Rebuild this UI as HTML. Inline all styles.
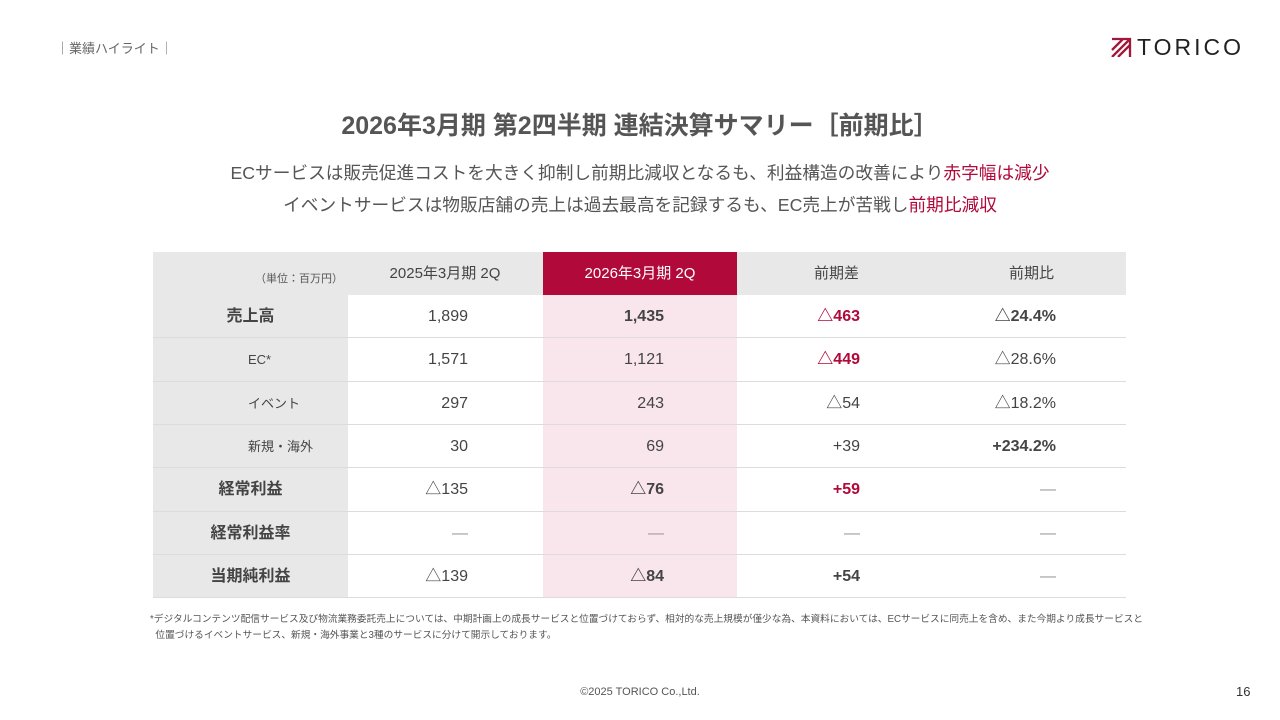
<!DOCTYPE html>
<html><head><meta charset="utf-8"><style>
body{margin:0;width:1280px;height:720px;background:#fff;font-family:"Liberation Sans","Noto Sans CJK JP",sans-serif;color:#444;position:relative;overflow:hidden}
.a{position:absolute;white-space:nowrap}
.c{position:absolute;height:43px;line-height:43px;font-size:16px}
.b{font-weight:bold}
.red{color:#b0093a}
.dash{color:#999;font-weight:normal}
</style></head><body>
<div class="a" style="left:56px;top:38px;font-size:13px;color:#666">｜業績ハイライト｜</div>
<div class="a" style="left:1110px;top:34px;font-size:23px;letter-spacing:3px;color:#222"><svg width="22" height="20" style="vertical-align:-2px;margin-right:5px"><path d="M2 2h18v18M2 20L20 2M8 20L20 8M2 13L13 2" stroke="#a0193a" stroke-width="2.3" fill="none"/></svg>TORICO</div>
<div class="a b" style="left:0;width:1280px;text-align:center;top:106px;font-size:25px;color:#555">2026年3月期 第2四半期 連結決算サマリー［前期比］</div>
<div class="a" style="left:0;width:1280px;text-align:center;top:159px;font-size:17.7px;color:#555">ECサービスは販売促進コストを大きく抑制し前期比減収となるも、利益構造の改善により<span class="red">赤字幅は減少</span></div>
<div class="a" style="left:0;width:1280px;text-align:center;top:191px;font-size:17.7px;color:#555">イベントサービスは物販店舗の売上は過去最高を記録するも、EC売上が苦戦し<span class="red">前期比減収</span></div>
<div id="t"></div>
<div class="a" style="left:150px;top:612px;font-size:9.7px;line-height:16px;color:#555">*デジタルコンテンツ配信サービス及び物流業務委託売上については、中期計画上の成長サービスと位置づけておらず、相対的な売上規模が僅少な為、本資料においては、ECサービスに同売上を含め、また今期より成長サービスと<br>&nbsp;&nbsp;位置づけるイベントサービス、新規・海外事業と3種のサービスに分けて開示しております。</div>
<div class="a" style="left:0;width:1280px;text-align:center;top:686px;font-size:11px;color:#555">©2025 TORICO Co.,Ltd.</div>
<div class="a" style="left:1236px;top:684px;font-size:13px;color:#333">16</div>
<script>
const headers=["2025年3月期 2Q","2026年3月期 2Q","前期差","前期比"];
const labels=["売上高","EC*","イベント","新規・海外","経常利益","経常利益率","当期純利益"];
const labelBold=[1,0,0,0,1,1,1];
const col1=["1,899","1,571","297","30","△135","—","△139"];
const col2=["1,435","1,121","243","69","△76","—","△84"];
const col3=["△463","△449","△54","+39","+59","—","+54"];
const col4=["△24.4%","△28.6%","△18.2%","+234.2%","—","—","—"];
const styles2=["b","","","","b","","b"];
const styles3=["b red","b red","","","b red","","b"];
const styles4=["b","","","b","","",""];
const t=document.getElementById('t');
function add(x,y,w,h,bg,name){const d=document.createElement('div');d.className='a';d.style.cssText=`left:${x}px;top:${y}px;width:${w}px;height:${h}px;background:${bg}`;


t.appendChild(d);return d;}
function txt(x,y,w,s,cls,name,align,size,color){const d=document.createElement('div');d.className='c '+(s==='—'?'dash':cls);d.textContent=s;d.style.left=x+'px';d.style.top=y+'px';d.style.width=w+'px';d.style.textAlign=align;if(size)d.style.fontSize=size+'px';if(color)d.style.color=color;


t.appendChild(d);}
add(153,252,973,43,'#e8e8e8','header-row');
add(153,295,195,303,'#e8e8e8','label-column');
add(543,252,194,43,'#b0093a','highlight-header');
add(543,295,194,303,'#f9e6ec','highlight-column');
for(let i=1;i<=7;i++){add(153,295+i*43.3-1,973,1,'#dcdcdc','row-divider');}
txt(153,258,190,'（単位：百万円）','','unit-label','right',11,'#555');
const cx=[348,543,737,932];
headers.forEach((h,i)=>txt(cx[i],252,i<2?194:122,h,'','header-'+i,i<2?'center':'right',15,i==1?'#fff':'#444'));
labels.forEach((l,i)=>{const y=295+i*43.3;
const bold=labelBold[i];
txt(bold?153:248,y,bold?195:100,l,bold?'b':'','row-label',bold?'center':'left',bold?16:13);
txt(348,y,120,col1[i],'','value-2025','right',16);
txt(543,y,121,col2[i],styles2[i],'value-2026','right',16);
txt(737,y,123,col3[i],styles3[i],'value-diff','right',16);
txt(932,y,124,col4[i],styles4[i],'value-ratio','right',16);});
</script>
</body></html>
